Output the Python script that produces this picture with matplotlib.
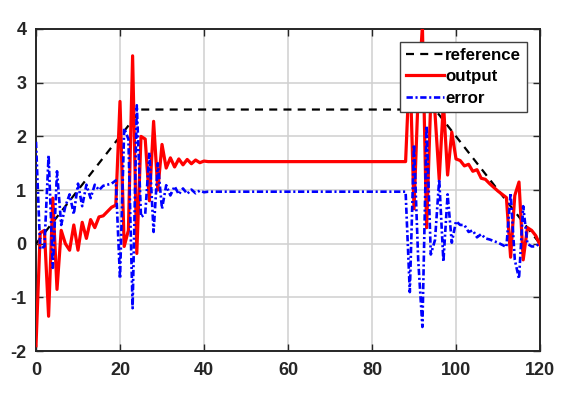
import numpy as np
import matplotlib
matplotlib.use("Agg")
import matplotlib.pyplot as plt

# ---- data ----
t = np.arange(0, 121)

ref_t = [0, 25, 95, 120]
ref_v = [0.0, 2.5, 2.5, 0.0]

output_v = ([-1.9, 0.2, 0.25, -1.35, 0.85, -0.85, 0.25, 0.0, -0.12, 0.35,
             -0.12, 0.4, 0.1, 0.45, 0.3, 0.5, 0.52, 0.6, 0.68, 0.72,
             2.65, -0.05, 0.25, 3.5, -0.18, 2.0, 1.95, 0.8, 2.28, 1.0,
             1.85, 1.41, 1.6, 1.43, 1.58, 1.47, 1.57, 1.49, 1.56, 1.51,
             1.54]
            + [1.53] * 48
            + [3.4, 0.65, 2.8, 4.05, 0.3, 2.7, 2.43, 1.2, 2.63, 1.28,
               2.08, 1.58, 1.55, 1.45, 1.48, 1.35, 1.38, 1.22, 1.2, 1.12,
               1.05, 0.98, 0.92, 0.86, -0.25, 0.9, 1.15, -0.3, 0.3, 0.25,
               0.15, -0.02])

error_v = ([1.9, -0.1, -0.05, 1.65, -0.45, 1.35, 0.35, 0.7, 0.92, 0.55,
            1.12, 0.7, 1.1, 0.85, 1.1, 1.0, 1.08, 1.1, 1.12, 1.18,
            -0.65, 2.15, 1.95, -1.2, 2.58, 0.5, 0.55, 1.7, 0.22, 1.5,
            0.65, 1.09, 0.9, 1.07, 0.92, 1.03, 0.93, 1.01, 0.94, 0.99,
            0.96]
           + [0.97] * 48
           + [-0.9, 1.85, -0.3, -1.55, 2.2, -0.2, 0.07, 1.2, -0.33, 0.92,
              0.02, 0.42, 0.35, 0.35, 0.22, 0.25, 0.12, 0.18, 0.1, 0.08,
              0.05, 0.02, -0.02, -0.06, 0.95, -0.3, -0.65, 0.7, 0.0, -0.05,
              -0.05, 0.02])

x_ticks = [0, 20, 40, 60, 80, 100, 120]
y_ticks = [-2, -1, 0, 1, 2, 3, 4]

# ---- figure ----
plt.rcParams['font.family'] = ['Liberation Sans', 'DejaVu Sans']
fig = plt.figure(figsize=(5.76, 3.95), dpi=100)
ax = fig.add_axes([0.0625, 0.111, 0.875, 0.8156])

ax.plot(ref_t, ref_v, color='black', lw=1.6, linestyle=(0, (3.6, 2.8)),
        label='reference', zorder=3)
ax.plot(t, output_v, color='#ff0000', lw=2.3, linestyle='-',
        label='output', zorder=4)
ax.plot(t, error_v, color='#0000ff', lw=1.9,
        linestyle=(0, (2.4, 1.0, 0.8, 1.0)), label='error', zorder=5)

ax.set_xlim(0, 120)
ax.set_ylim(-2, 4)
ax.set_xticks(x_ticks)
ax.set_yticks(y_ticks)
ax.set_xticklabels([str(v) for v in x_ticks], fontsize=13, fontweight='bold')
ax.set_yticklabels([str(v) for v in y_ticks], fontsize=13, fontweight='bold')
ax.tick_params(direction='in', length=5, width=1, top=True, right=True,
               colors='#262626')
ax.tick_params(axis='x', pad=8)
ax.tick_params(axis='y', pad=7)
ax.grid(True, color='#d0d0d0', lw=1.1, zorder=0)
for s in ax.spines.values():
    s.set_linewidth(1.4)
    s.set_color('#262626')

leg = ax.legend(loc='upper right', prop={'weight': 'bold', 'size': 12.2},
                handlelength=2.2, handletextpad=0.1, borderpad=0.35,
                labelspacing=0.4, fancybox=False, framealpha=1,
                edgecolor='#404040', borderaxespad=0.75)
leg.get_frame().set_linewidth(1.0)

fig.savefig('out.png', dpi=100)
